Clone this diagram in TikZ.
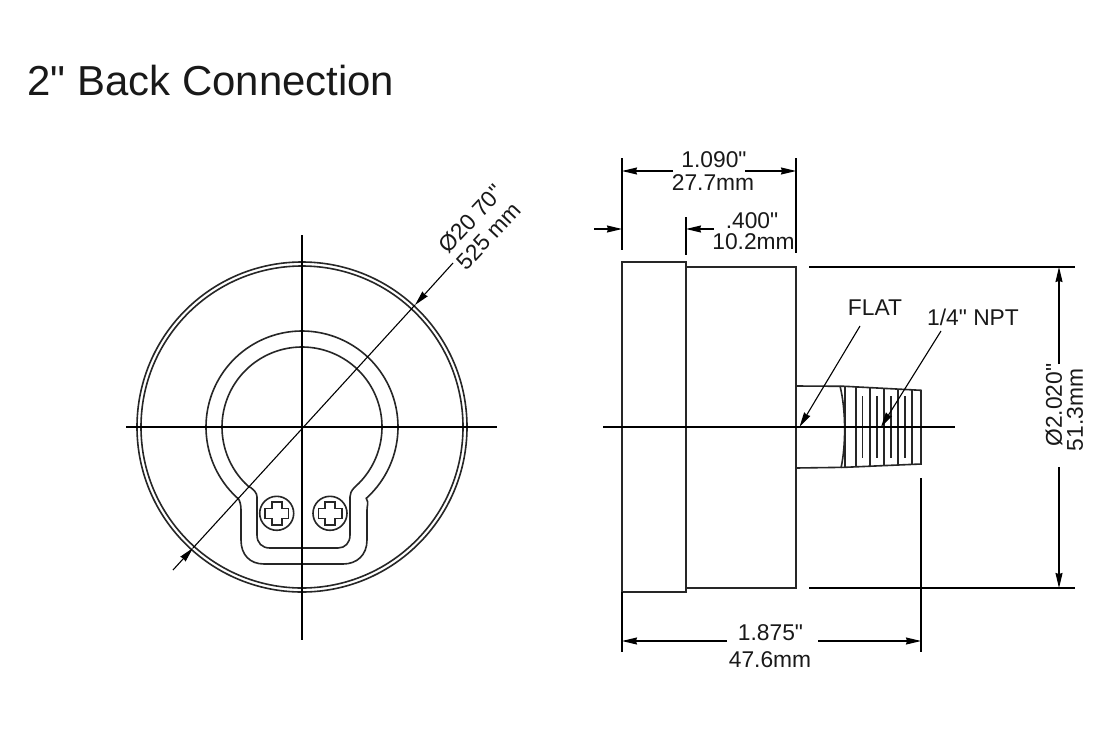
\documentclass[tikz,border=0pt]{standalone}
\usepackage{fontspec}
\setmainfont{Liberation Sans}[Ligatures=TeXOff]
\usetikzlibrary{arrows.meta}
\tikzset{
  x=1pt,y=-1pt,
  thin line/.style={draw=black,line width=1.1pt},
  body line/.style={draw=black!85,line width=1.6pt},
  dim arrow/.style={thin line,-{Stealth[length=15pt,width=7pt,inset=1pt]}},
  label text/.style={font=\fontsize{22.8}{22.8}\selectfont,inner sep=0pt,text=black!90},
  title text/.style={font=\fontsize{41.9}{41.9}\selectfont,inner sep=0pt,text=black!90,anchor=base west},
}
\begin{document}
\begin{tikzpicture}
\useasboundingbox (0,0) rectangle (1110,728);
\fill[white] (0,0) rectangle (1110,728);
\node[title text] (title) at (27.5,95) {2" Back Connection};
% front view
\coordinate (c) at (302,427);
\draw[body line] (c) circle[radius=165];
\draw[body line] (c) circle[radius=161];
\draw[body line] plot[domain=228:-48,samples=120] ({302+96*cos(\x)},{427-96*sin(\x)})
  .. controls (369,503) and (367,505) .. (367,510) -- (367,540)
  .. controls (367,555) and (357,564) .. (343,564) -- (264,564)
  .. controls (250,564) and (241,555) .. (241,540) -- (241,510)
  .. controls (241,505) and (240,501) .. (238,498);
\draw[body line] plot[domain=229:-49,samples=120] ({302+80*cos(\x)},{427-80*sin(\x)})
  .. controls (351,491) and (350,494) .. (350,497) -- (350,535)
  .. controls (350,543) and (345,548) .. (338,548) -- (270,548)
  .. controls (262,548) and (257,543) .. (257,535) -- (257,497)
  .. controls (257,493) and (254,490) .. (250,487);
\foreach \sx in {276.7,330}{
  \draw[body line] (\sx,513.3) circle[radius=17];
  \draw[body line] (\sx-5,501.7) -- (\sx+5,501.7) -- (\sx+5,508.5) -- (\sx+11.7,508.5) -- (\sx+11.7,518.5) -- (\sx+5,518.5) -- (\sx+5,525) -- (\sx-5,525) -- (\sx-5,518.5) -- (\sx-11.7,518.5) -- (\sx-11.7,508.5) -- (\sx-5,508.5) -- cycle;
}
\draw[thin line] (126,427) -- (497,427);
\draw[thin line] (302,235) -- (302,640);
\coordinate (dA) at (173,570);
\coordinate (dB) at (453,263);
\coordinate (tipA) at (193,548);
\coordinate (tipB) at (415,305);
\draw[thin line] (tipA) -- (tipB);
\draw[dim arrow] (dA) -- (tipA);
\draw[dim arrow] (dB) -- (tipB);
\node[label text,rotate=47] (dia1) at (471,219) {Ø20 70"};
\node[label text,rotate=47] (dia2) at (489,236) {525 mm};
% side view
\draw[body line] (622,262) rectangle (686,592);
\draw[body line] (686,267) -- (796,267) -- (796,588) -- (686,588);
\draw[body line] (796,386) -- (845,386.3) -- (921,390.3) -- (921,464) -- (845,467.3) -- (796,468);
\draw[body line] (840,386) .. controls (846,410) and (846,445) .. (841,468);
\draw[body line] (845,386.3) -- (845,467.3);
\foreach \tx/\ta/\tb in {855.7/386.9/466.9,870/387.6/466.2,884/388.4/465.6,897.7/389/465,911.7/389.8/464.4}{
  \draw[body line] (\tx,\ta) -- (\tx,\tb);
}
\foreach \tx in {862.3,876.7,890.7,905}{
  \draw[body line] (\tx,396.3) -- (\tx,458);
}
\draw[thin line] (603,427) -- (955,427);
% extension lines
\draw[thin line] (622,158) -- (622,250);
\draw[thin line] (796,158) -- (796,253);
\draw[thin line] (686,217) -- (686,255);
\draw[thin line] (809,267) -- (1075,267);
\draw[thin line] (809,588) -- (1075,588);
\draw[thin line] (622,592) -- (622,652);
\draw[thin line] (921,478) -- (921,652);
% dimensions
\coordinate (a1) at (673,171); \coordinate (a2) at (622,171);
\coordinate (a3) at (745,171); \coordinate (a4) at (796,171);
\draw[dim arrow] (a1) -- (a2);
\draw[dim arrow] (a3) -- (a4);
\node[label text] (t1) at (714,160) {1.090"};
\node[label text] (t2) at (713,183) {27.7mm};
\coordinate (b1) at (594,229); \coordinate (b2) at (622,229);
\coordinate (b3) at (714,229); \coordinate (b4) at (686,229);
\draw[dim arrow] (b1) -- (b2);
\draw[dim arrow] (b3) -- (b4);
\node[label text] (t3) at (752,221) {.400"};
\node[label text] (t4) at (753.5,241.5) {10.2mm};
\coordinate (r1) at (1059,364); \coordinate (r2) at (1059,267);
\coordinate (r3) at (1059,467); \coordinate (r4) at (1059,588);
\draw[dim arrow] (r1) -- (r2);
\draw[dim arrow] (r3) -- (r4);
\node[label text,rotate=90] (t5) at (1054,405) {Ø2.020"};
\node[label text,rotate=90] (t6) at (1075,410) {51.3mm};
\coordinate (l1) at (727,641); \coordinate (l2) at (622,641);
\coordinate (l3) at (818,641); \coordinate (l4) at (921,641);
\draw[dim arrow] (l1) -- (l2);
\draw[dim arrow] (l3) -- (l4);
\node[label text] (t7) at (770.5,633) {1.875"};
\node[label text] (t8) at (770,659.5) {47.6mm};
\node[label text] (flat) at (875,308) {FLAT};
\node[label text] (npt) at (973,317) {1/4" NPT};
\coordinate (f1) at (860,326); \coordinate (f2) at (799.5,427);
\coordinate (n1) at (941,331); \coordinate (n2) at (881,427);
\draw[dim arrow] (f1) -- (f2);
\draw[dim arrow] (n1) -- (n2);
\end{tikzpicture}
\end{document}
